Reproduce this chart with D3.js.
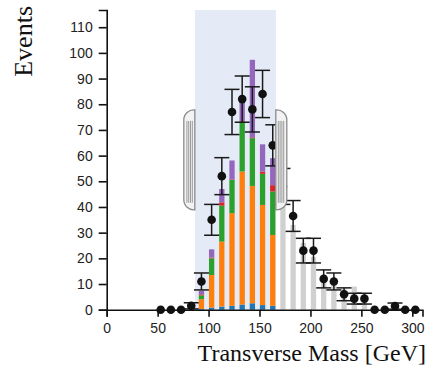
<!DOCTYPE html>
<html>
<head>
<meta charset="utf-8">
<script src="https://cdn.jsdelivr.net/npm/d3@7"></script>
<style>
  body { margin: 0; background: #fff; }
  svg { display: block; }
  .axis .tick text { font-family: "Liberation Sans", Arial, sans-serif; font-size: 14px; fill: #222; }
  .axis path, .axis line { stroke: #111; stroke-width: 1.6px; }
  .axis-title { font-family: "Liberation Serif", "Times New Roman", serif; font-size: 24px; fill: #111; }
</style>
</head>
<body>
<svg id="chart" width="427" height="368"></svg>
<script>
// bin centres (GeV)
const massBins = [53, 63, 73, 83, 93, 103, 113, 123, 133, 143, 153, 163, 173,
                  183, 193, 203, 213, 223, 233, 243, 253, 263, 273, 283, 293, 303];

// observed events and their error bars
const observed = [0, 0, 0, 1.5, 11, 35, 52, 77, 82, 78, 84, 64, 48,
                  36.5, 23, 23, 12, 11, 6, 4.3, 4.3, 0, 0, 1.4, 0, 0];
const obsError = [0, 0, 0, 1.2, 3.3, 6, 7.2, 8.8, 9, 8.8, 9.2, 8, 7,
                  6, 4.8, 4.8, 3.5, 3.3, 2.5, 2.1, 2.1, 0, 0, 1.2, 0, 0];

// stacked expectation inside the selected window (bottom to top)
const bkgBlue   = [0, 0, 0, 0, 0.3, 0.8, 1.2, 1.5, 2.0, 2.5, 1.8, 1.5, 0, 0, 0, 0, 0, 0, 0, 0, 0, 0, 0, 0, 0, 0];
const bkgOrange = [0, 0, 0, 0, 3.8, 12.7, 25.3, 36.1, 51.8, 45.7, 39.0, 27.6, 0, 0, 0, 0, 0, 0, 0, 0, 0, 0, 0, 0, 0, 0];
const bkgGreen  = [0, 0, 0, 0, 1.5, 6.5, 14.0, 12.9, 19.4, 18.6, 12.1, 16.9, 0, 0, 0, 0, 0, 0, 0, 0, 0, 0, 0, 0, 0, 0];
const bkgRed    = [0, 0, 0, 0, 0.4, 0.3, 1.3, 0.2, 0.3, 0.3, 0.9, 2.5, 0, 0, 0, 0, 0, 0, 0, 0, 0, 0, 0, 0, 0, 0];
const bkgPurple = [0, 0, 0, 0, 1.4, 3.2, 5.2, 7.4, 9.5, 30.2, 10.6, 10.5, 0, 0, 0, 0, 0, 0, 0, 0, 0, 0, 0, 0, 0, 0];

// total expectation outside the selected window (grey)
const unselected = [0, 0, 0.3, 1, 0, 0, 0, 0, 0, 0, 0, 0, 45,
                    33, 26, 20.5, 13.5, 12, 8, 9, 3.5, 1, 1, 0.5, 0, 0];

const xTicks = [0, 50, 100, 150, 200, 250, 300];
const yTicks = [0, 10, 20, 30, 40, 50, 60, 70, 80, 90, 100, 110];
const selection = [86.5, 166];   // brushed mass window

const seriesKeys = ["blue", "orange", "green", "red", "purple"];
const seriesColors = ["#1f77b4", "#ff7f0e", "#2ca02c", "#d62728", "#9467bd"];

const svg = d3.select("#chart");
const plotLeft = 106.7, plotRight = 422.5, plotTop = 10, plotBottom = 309.7;

const x = d3.scaleLinear().domain([0, 310]).range([plotLeft, plotRight]);
const y = d3.scaleLinear().domain([0, 116.7]).range([plotBottom, plotTop]);

// brush (selection shading) behind everything
const brush = d3.brushX().extent([[plotLeft, plotTop], [plotRight, plotBottom]]);
const brushG = svg.append("g").attr("class", "brush").call(brush);
brush.move(brushG, selection.map(x));
brushG.select(".selection")
  .attr("fill", "#e4ebf6")
  .attr("fill-opacity", 1)
  .attr("stroke", "none");

// table for the stack
const rows = massBins.map((m, i) => ({
  mass: m,
  blue: bkgBlue[i], orange: bkgOrange[i], green: bkgGreen[i],
  red: bkgRed[i], purple: bkgPurple[i]
}));
const stacked = d3.stack().keys(seriesKeys)(rows);

const barW = x(5.2) - x(0);

// grey bars
svg.append("g")
  .selectAll("rect")
  .data(massBins.map((m, i) => ({ mass: m, v: unselected[i] })).filter(d => d.v > 0))
  .enter()
  .append("rect")
  .attr("x", d => x(d.mass) - barW / 2)
  .attr("y", d => y(d.v))
  .attr("width", barW)
  .attr("height", d => plotBottom - y(d.v))
  .attr("fill", "#d0d0d0");

// coloured stacks
svg.append("g")
  .selectAll("g")
  .data(stacked)
  .enter()
  .append("g")
  .attr("fill", (d, i) => seriesColors[i])
  .selectAll("rect")
  .data(d => d.filter(s => s[1] - s[0] > 0))
  .enter()
  .append("rect")
  .attr("x", d => x(d.data.mass) - barW / 2)
  .attr("y", d => y(d[1]))
  .attr("width", barW)
  .attr("height", d => y(d[0]) - y(d[1]));

// axes
svg.append("g")
  .attr("class", "axis")
  .attr("transform", "translate(" + plotLeft + ",0)")
  .call(d3.axisLeft(y).tickValues(yTicks).tickSize(8).tickPadding(6));

svg.append("g")
  .attr("class", "axis")
  .attr("transform", "translate(0," + plotBottom + ")")
  .call(d3.axisBottom(x).tickValues(xTicks).tickSize(7).tickPadding(6));

// data points with error bars
const pts = massBins.map((m, i) => ({ mass: m, n: observed[i], e: obsError[i] }));
const capW = 7.5;
const errG = svg.append("g").attr("stroke", "#1a1a1a").attr("stroke-width", 1.5);
pts.filter(d => d.e > 0).forEach(d => {
  errG.append("line")
    .attr("x1", x(d.mass)).attr("x2", x(d.mass))
    .attr("y1", y(d.n - d.e)).attr("y2", y(d.n + d.e));
  errG.append("line")
    .attr("x1", x(d.mass) - capW).attr("x2", x(d.mass) + capW)
    .attr("y1", y(d.n + d.e)).attr("y2", y(d.n + d.e));
  errG.append("line")
    .attr("x1", x(d.mass) - capW).attr("x2", x(d.mass) + capW)
    .attr("y1", y(d.n - d.e)).attr("y2", y(d.n - d.e));
});
svg.append("g")
  .selectAll("circle")
  .data(pts)
  .enter()
  .append("circle")
  .attr("cx", d => x(d.mass))
  .attr("cy", d => y(d.n))
  .attr("r", 4.3)
  .attr("fill", "#111");

// brush handles on top
const h = plotBottom - plotTop;
const hy0 = plotTop + h / 3, hy1 = plotTop + 2 * h / 3;
const hw = 11, hr = 10;
function handlePath(px, s) {
  const sweep = s > 0 ? 1 : 0;
  return "M" + px + "," + hy0 +
    "A" + hr + "," + hr + " 0 0 " + sweep + " " + (px + s * hw) + "," + (hy0 + hr) +
    "V" + (hy1 - hr) +
    "A" + hr + "," + hr + " 0 0 " + sweep + " " + px + "," + hy1 + "Z";
}
const handles = svg.append("g");
[[x(selection[0]), -1], [x(selection[1]), 1]].forEach(([px, s]) => {
  handles.append("path")
    .attr("d", handlePath(px, s))
    .attr("fill", "#f3f3f3")
    .attr("stroke", "#8a8a8a")
    .attr("stroke-width", 1.3);
  [2.5, 4.3, 6.1, 7.9].forEach(off => {
    handles.append("line")
      .attr("x1", px + s * off).attr("x2", px + s * off)
      .attr("y1", hy0 + hr + 1).attr("y2", hy1 - hr + 3)
      .attr("stroke", "#9a9a9a")
      .attr("stroke-width", 1);
  });
});

// axis titles
svg.append("text")
  .attr("class", "axis-title")
  .attr("text-anchor", "end")
  .attr("x", 426)
  .attr("y", 361)
  .text("Transverse Mass [GeV]");

svg.append("text")
  .attr("class", "axis-title")
  .attr("text-anchor", "end")
  .style("font-size", "26px")
  .attr("transform", "translate(32,6) rotate(-90)")
  .text("Events");
</script>
</body>
</html>
